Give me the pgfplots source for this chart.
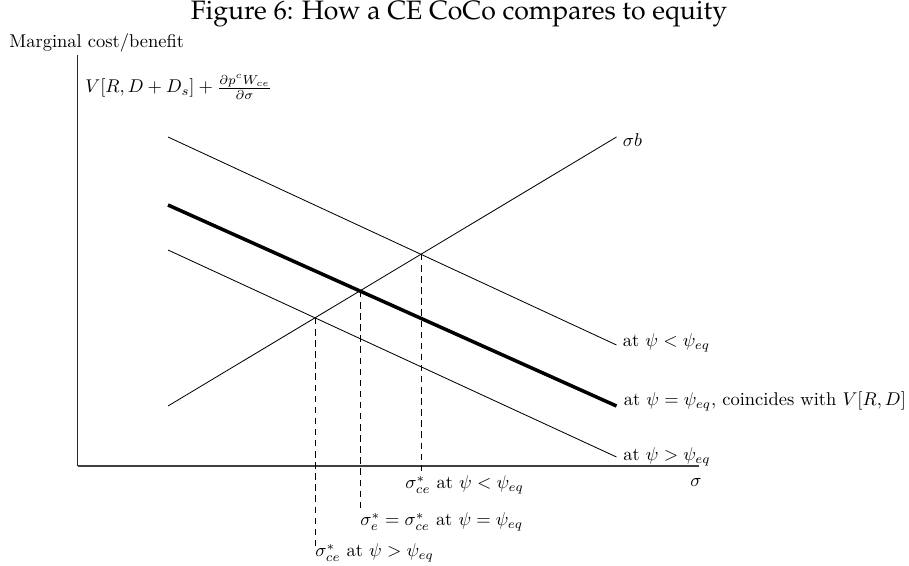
\documentclass[border=0pt]{standalone}
\usepackage[T1,TU]{fontenc}
\usepackage{pgfplots}
\pgfplotsset{compat=1.18}
\begin{document}
\begin{tikzpicture}
\begin{axis}[
  x=0.541pt, y=0.541pt,
  xmin=77.5, xmax=699, ymin=100, ymax=511,
  enlargelimits=false,
  axis lines=left,
  axis line style={-},
  x axis line style={line width=0.8pt, black!75},
  y axis line style={line width=0.5pt, black!85},
  xtick=\empty, ytick=\empty,
  clip=false,
]
% marginal benefit of risk
\addplot[black, line width=0.45pt] coordinates {(168,160) (616.5,429)};
% marginal cost curves for three conversion triggers
\addplot[black, line width=0.45pt] coordinates {(168,429) (616.5,221)};
\addplot[black, line width=1.9pt] coordinates {(168,361) (616.5,160)};
\addplot[black, line width=0.45pt] coordinates {(168,316) (616.5,109)};
% optimal risk choices
\addplot[black, dash pattern=on 3.5pt off 2.5pt, line width=0.45pt] coordinates {(421,312) (421,93)};
\addplot[black, dash pattern=on 3.5pt off 2.5pt, line width=0.45pt] coordinates {(360,275) (360,56)};
\addplot[black, dash pattern=on 3.5pt off 2.5pt, line width=0.45pt] coordinates {(315,248) (315,19)};

\node[font=\fontencoding{T1}\fontfamily{ppl}\fontsize{14.4}{17}\selectfont] at (axis cs:459,552) {Figure 6: How a CE CoCo compares to equity};
\node[anchor=west, inner sep=0pt] at (axis cs:9,523) {Marginal cost/benefit};
\node[anchor=west, inner sep=0pt] at (axis cs:85,479) {$V[R,D+D_s]+\frac{\partial p^c W_{ce}}{\partial\sigma}$};
\node[anchor=west, inner sep=0pt] at (axis cs:622.5,426) {$\sigma b$};
\node[anchor=west, inner sep=0pt] at (axis cs:622.5,223) {at $\psi<\psi_{eq}$};
\node[anchor=west, inner sep=0pt] at (axis cs:623.5,165) {at $\psi=\psi_{eq}$, coincides with $V[R,D]$};
\node[anchor=west, inner sep=0pt] at (axis cs:623,109) {at $\psi>\psi_{eq}$};
\node[inner sep=0pt] at (axis cs:696,83) {$\sigma$};
\node[anchor=west, inner sep=0pt] at (axis cs:405,81) {$\sigma^*_{ce}$ at $\psi<\psi_{eq}$};
\node[anchor=west, inner sep=0pt] at (axis cs:360,44) {$\sigma^*_{e}=\sigma^*_{ce}$ at $\psi=\psi_{eq}$};
\node[anchor=west, inner sep=0pt] at (axis cs:315,13) {$\sigma^*_{ce}$ at $\psi>\psi_{eq}$};

\coordinate (bl) at (axis cs:0,0);
\coordinate (tr) at (axis cs:909,566);
\end{axis}
\pgfresetboundingbox
\path (bl) rectangle (tr);
\end{tikzpicture}
\end{document}
